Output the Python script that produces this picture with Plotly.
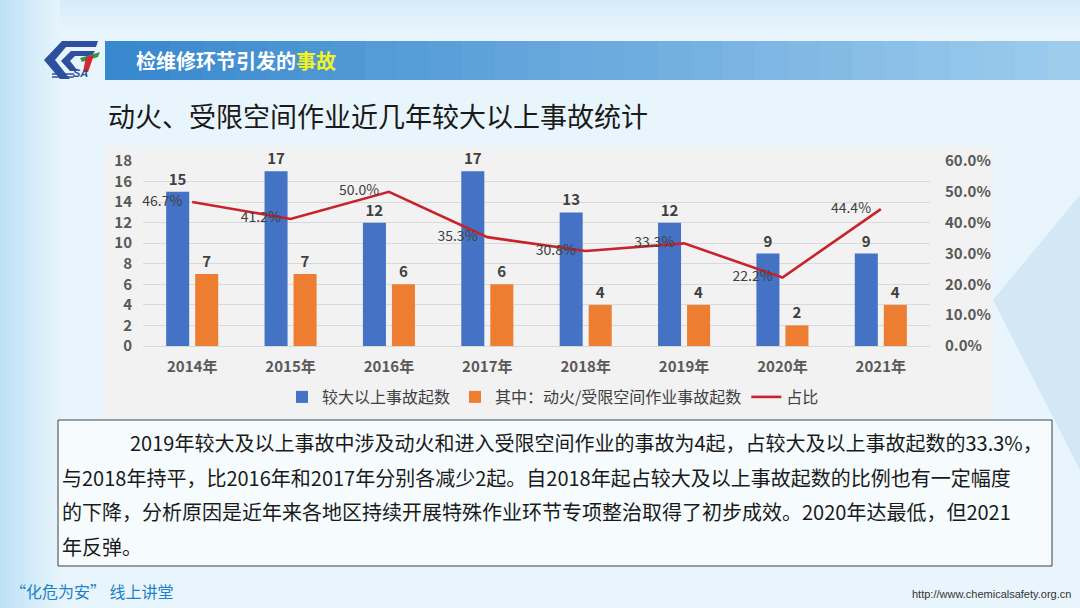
import plotly.graph_objects as go

# ---------------- data ----------------
years = ["2014年", "2015年", "2016年", "2017年", "2018年", "2019年", "2020年", "2021年"]
major_counts = [15, 17, 12, 17, 13, 12, 9, 9]
hotwork_counts = [7, 7, 6, 6, 4, 4, 2, 4]
ratio = [0.467, 0.412, 0.500, 0.353, 0.308, 0.333, 0.222, 0.444]
ratio_labels = ["46.7%", "41.2%", "50.0%", "35.3%", "30.8%", "33.3%", "22.2%", "44.4%"]
series_names = ["较大以上事故起数", "其中：动火/受限空间作业事故起数", "占比"]

header_main = "检维修环节引发的"
header_hl = "事故"
title_text = "动火、受限空间作业近几年较大以上事故统计"
para_lines = [
    "2019年较大及以上事故中涉及动火和进入受限空间作业的事故为4起，占较大及以上事故起数的33.3%，",
    "与2018年持平，比2016年和2017年分别各减少2起。自2018年起占较大及以上事故起数的比例也有一定幅度",
    "的下降，分析原因是近年来各地区持续开展特殊作业环节专项整治取得了初步成效。2020年达最低，但2021",
    "年反弹。",
]
footer_left = "“化危为安” 线上讲堂"
footer_right = "http://www.chemicalsafety.org.cn"

# ---------------- helpers ----------------
W, H = 1080, 608
FONT = "Noto Sans CJK SC"


def px(x):
    return x / W


def py(y):
    return 1 - y / H


def lerp(c1, c2, t):
    return "rgb(%d,%d,%d)" % tuple(round(a + (b - a) * t) for a, b in zip(c1, c2))


fig = go.Figure()

fig.add_trace(go.Bar(
    x=years, y=major_counts, name=series_names[0],
    marker=dict(color="#4472c4"),
    text=[str(v) for v in major_counts], textposition="outside",
    textfont=dict(family=FONT, size=15, color="#404040", weight="bold"),
    cliponaxis=False,
))
fig.add_trace(go.Bar(
    x=years, y=hotwork_counts, name=series_names[1],
    marker=dict(color="#ed7d31"),
    text=[str(v) for v in hotwork_counts], textposition="outside",
    textfont=dict(family=FONT, size=15, color="#404040", weight="bold"),
    cliponaxis=False,
))
fig.add_trace(go.Scatter(
    x=years, y=ratio, name=series_names[2], yaxis="y2",
    mode="lines+markers+text", line=dict(color="#c8232c", width=2.6),
    marker=dict(size=14, color="rgba(0,0,0,0)"),
    text=ratio_labels, textposition="middle left",
    textfont=dict(family=FONT, size=14, color="#404040"),
    cliponaxis=False,
))

shapes = []
# background decorations
N = 12
for i in range(N):
    x0 = i * 5
    shapes.append(dict(type="rect", xref="paper", yref="paper", layer="below",
                       x0=px(x0), x1=px(x0 + 5), y0=0, y1=1, line=dict(width=0),
                       fillcolor=lerp((190, 226, 246), (233, 245, 252), i / N)))
for i in range(8):
    y0 = i * 4
    shapes.append(dict(type="rect", xref="paper", yref="paper", layer="below",
                       x0=px(60), x1=1, y0=py(y0 + 4), y1=py(y0), line=dict(width=0),
                       fillcolor=lerp((214, 237, 249), (233, 245, 252), i / 8)))
# right pale diamond
shapes.append(dict(type="path", xref="paper", yref="paper", layer="below",
                   path="M %f,%f L %f,%f L %f,%f Z" % (px(1080), py(195), px(993), py(300), px(1080), py(470)),
                   fillcolor="#d3e7f5", line=dict(width=0)))
# header bar gradient
N = 30
for i in range(N):
    x0 = 105 + i * (975 / N)
    shapes.append(dict(type="rect", xref="paper", yref="paper", layer="below",
                       x0=px(x0), x1=px(x0 + 975 / N + 0.5), y0=py(80), y1=py(41), line=dict(width=0),
                       fillcolor=lerp((56, 136, 206), (160, 206, 238), i / N)))
# logo
shapes.append(dict(type="path", xref="paper", yref="paper",
                   path="M %f,%f L %f,%f L %f,%f L %f,%f L %f,%f L %f,%f L %f,%f L %f,%f Z" % (
                       px(98), py(41), px(62), py(41), px(44), py(60), px(60), py(79),
                       px(70), py(79), px(55), py(60), px(66), py(47), px(96), py(47)),
                   fillcolor="#2c4f9e", line=dict(width=0)))
shapes.append(dict(type="path", xref="paper", yref="paper",
                   path="M %f,%f L %f,%f L %f,%f L %f,%f L %f,%f L %f,%f L %f,%f L %f,%f Z" % (
                       px(95), py(51), px(71), py(51), px(61), py(61), px(70), py(71),
                       px(78), py(71), px(70), py(61), px(75), py(56), px(92), py(56)),
                   fillcolor="#2c4f9e", line=dict(width=0)))
shapes.append(dict(type="path", xref="paper", yref="paper",
                   path="M %f,%f L %f,%f L %f,%f L %f,%f Z" % (
                       px(80), py(58), px(100), py(52), px(98), py(57), px(82), py(62)),
                   fillcolor="#2e9a48", line=dict(width=0)))
shapes.append(dict(type="path", xref="paper", yref="paper",
                   path="M %f,%f L %f,%f L %f,%f L %f,%f Z" % (
                       px(86), py(57), px(94), py(55), px(88), py(72), px(83), py(72)),
                   fillcolor="#d7262e", line=dict(width=0)))
for yy in (74, 77):
    shapes.append(dict(type="line", xref="paper", yref="paper",
                       x0=px(52), x1=px(74), y0=py(yy), y1=py(yy),
                       line=dict(color="#2c4f9e", width=1.5)))
# gray chart panel
shapes.append(dict(type="rect", xref="paper", yref="paper", layer="below",
                   x0=px(105), x1=px(993), y0=py(418), y1=py(146),
                   fillcolor="#f2f2f2", line=dict(width=0)))
# text box
shapes.append(dict(type="rect", xref="paper", yref="paper", layer="below",
                   x0=px(58), x1=px(1052), y0=py(566), y1=py(420),
                   fillcolor="rgba(250,253,255,0.75)", line=dict(color="#404040", width=1)))

annotations = []
annotations.append(dict(
    x=px(134), y=py(60), xref="paper", yref="paper", xanchor="left", yanchor="middle",
    showarrow=False,
    text="<b>%s<span style='color:#f2f224'>%s</span></b>" % (header_main, header_hl),
    font=dict(family=FONT, size=20, color="#ffffff")))
annotations.append(dict(
    x=px(80), y=py(73), xref="paper", yref="paper", xanchor="center", yanchor="middle",
    showarrow=False, text="<b><i>SA</i></b>",
    font=dict(family="Liberation Sans", size=11, color="#2c4f9e")))
annotations.append(dict(
    x=px(106), y=py(116), xref="paper", yref="paper", xanchor="left", yanchor="middle",
    showarrow=False, text=title_text,
    font=dict(family=FONT, size=27, color="#1a1a1a")))
line_pos = [(128, 443), (60, 477), (60, 511), (60, 546)]
for (lx, ly), t in zip(line_pos, para_lines):
    annotations.append(dict(
        x=px(lx), y=py(ly), xref="paper", yref="paper", xanchor="left", yanchor="middle",
        showarrow=False, text=t,
        font=dict(family=FONT, size=20, color="#1a1a1a")))
annotations.append(dict(
    x=px(8), y=py(591), xref="paper", yref="paper", xanchor="left", yanchor="middle",
    showarrow=False, text=footer_left,
    font=dict(family=FONT, size=16, color="#1b82c6")))
annotations.append(dict(
    x=px(1073), y=py(594), xref="paper", yref="paper", xanchor="right", yanchor="middle",
    showarrow=False, text=footer_right,
    font=dict(family="Liberation Sans Narrow, Liberation Sans", size=11, color="#333333")))

fig.update_layout(
    template="none",
    width=W, height=H,
    margin=dict(l=0, r=0, t=0, b=0, pad=0, autoexpand=False),
    paper_bgcolor="#e9f5fc",
    plot_bgcolor="rgba(0,0,0,0)",
    barmode="group", bargap=0.41, bargroupgap=0.207,
    font=dict(family=FONT, color="#404040"),
    showlegend=True,
    legend=dict(orientation="h", x=px(553), y=py(397), xanchor="center", yanchor="middle",
                font=dict(family=FONT, size=16, color="#404040"),
                bgcolor="rgba(0,0,0,0)", traceorder="normal"),
    xaxis=dict(domain=[px(143), px(930)], showgrid=False, showline=False, ticks="",
               automargin=False,
               tickfont=dict(family=FONT, size=15, color="#595959", weight="bold"),
               ticklabelstandoff=10),
    yaxis=dict(domain=[py(346), py(161)], range=[0, 18], dtick=2, tick0=0,
               showgrid=True, gridcolor="#d9d9d9", gridwidth=1,
               zeroline=True, zerolinecolor="#d9d9d9", zerolinewidth=1,
               showline=False, ticks="", automargin=False,
               tickfont=dict(family=FONT, size=15, color="#595959", weight="bold"),
               ticklabelstandoff=10),
    yaxis2=dict(overlaying="y", side="right", range=[0, 0.6], dtick=0.1, tick0=0,
                tickformat=".1%", showgrid=False, zeroline=False, showline=False, ticks="",
                automargin=False,
                tickfont=dict(family=FONT, size=15, color="#595959", weight="bold"),
                ticklabelstandoff=14),
    shapes=shapes,
    annotations=annotations,
)

fig.write_html("out.html", config={"displayModeBar": False},
               post_script="document.body.style.margin='0';document.body.style.overflow='hidden';")
